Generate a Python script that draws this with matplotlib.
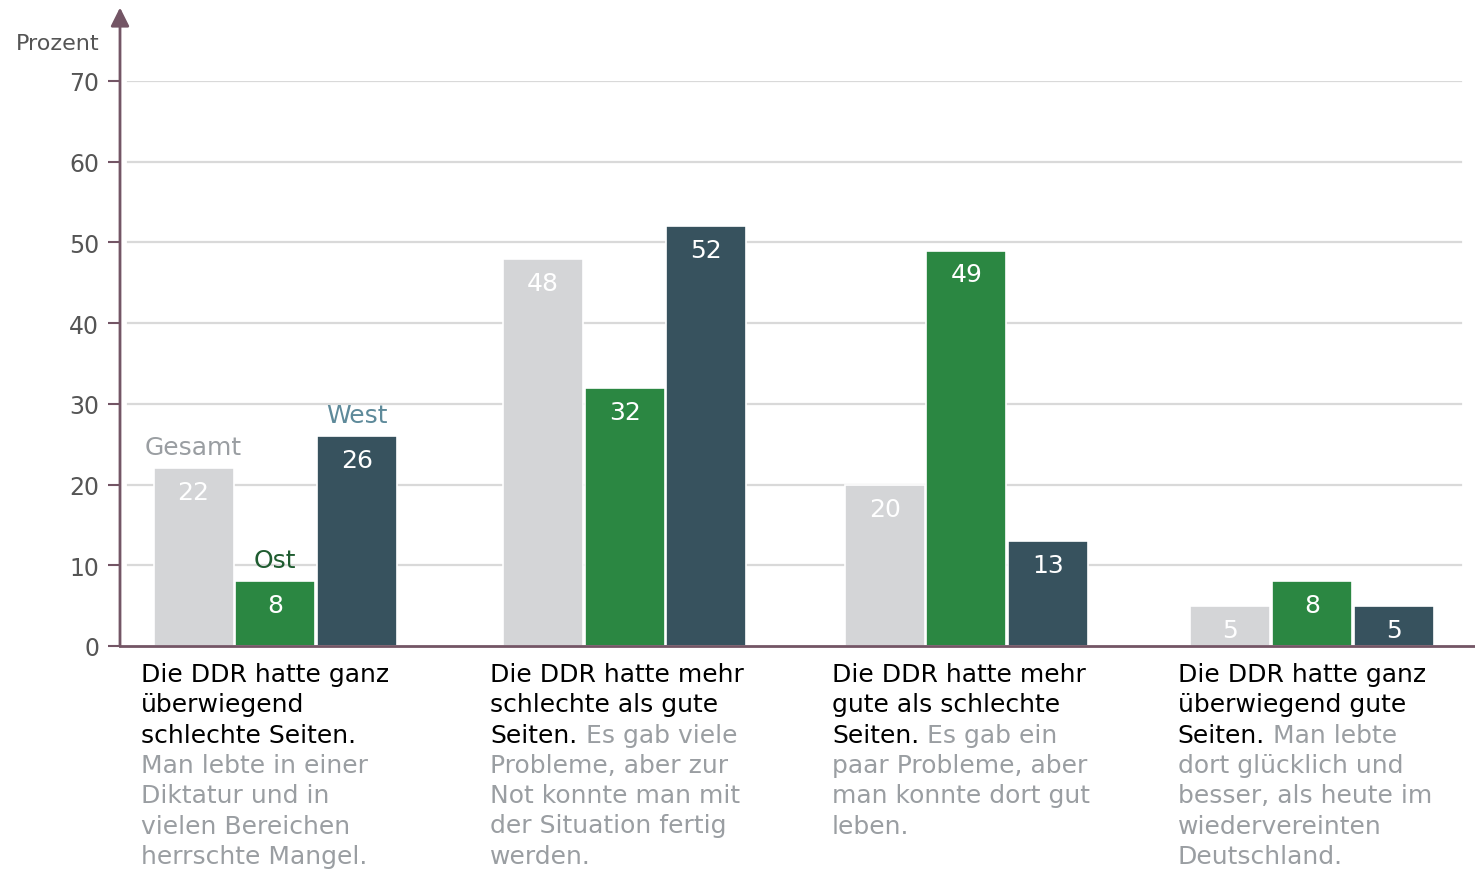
import numpy as np
import matplotlib
matplotlib.use('Agg')
import matplotlib.pyplot as plt

# Values (Prozent)
series_names = ['Gesamt', 'Ost', 'West']
gesamt = [22, 48, 20, 5]
ost = [8, 32, 49, 8]
west = [26, 52, 13, 5]

# Category texts, line by line: (black part, grey part)
cat_lines = [
    [('Die DDR hatte ganz', ''), ('überwiegend', ''), ('schlechte Seiten.', ''),
     ('', 'Man lebte in einer'), ('', 'Diktatur und in'), ('', 'vielen Bereichen'),
     ('', 'herrschte Mangel.')],
    [('Die DDR hatte mehr', ''), ('schlechte als gute', ''), ('Seiten.', ' Es gab viele'),
     ('', 'Probleme, aber zur'), ('', 'Not konnte man mit'), ('', 'der Situation fertig'),
     ('', 'werden.')],
    [('Die DDR hatte mehr', ''), ('gute als schlechte', ''), ('Seiten.', ' Es gab ein'),
     ('', 'paar Probleme, aber'), ('', 'man konnte dort gut'), ('', 'leben.')],
    [('Die DDR hatte ganz', ''), ('überwiegend gute', ''), ('Seiten.', ' Man lebte'),
     ('', 'dort glücklich und'), ('', 'besser, als heute im'), ('', 'wiedervereinten'),
     ('', 'Deutschland.')],
]
yticks = [0, 10, 20, 30, 40, 50, 60, 70]

bar_colors = ['#d4d5d7', '#2b8742', '#37525e']
name_colors = ['#9a9ea2', '#1f5c30', '#5e8a9a']
axis_color = '#735565'
grey_text = '#9a9ea2'

plt.rcParams['font.family'] = ['DejaVu Sans']

fig = plt.figure(figsize=(14.75, 8.7), dpi=100)
ax = fig.add_axes([120 / 1475, 223 / 870, 1355 / 1475, 565 / 870])

# group centres (layout), one bar width = 1 unit
centers = np.array([1.94, 6.31, 10.58, 14.9])
width = 1.0
offsets = [-1.02, 0, 1.02]
data = [gesamt, ost, west]
fs = 18

for y in yticks[1:]:
    ax.axhline(y, xmin=0.006, xmax=0.99, color='#d9d9d9', lw=1.6, zorder=0)

for s, vals in enumerate(data):
    bars = ax.bar(centers + offsets[s], vals, width, color=bar_colors[s],
                  edgecolor='white', linewidth=1.2, zorder=2)
    for b, v in zip(bars, vals):
        ax.annotate(str(v), (b.get_x() + b.get_width() / 2, v),
                    xytext=(0, -24), textcoords='offset pixels',
                    ha='center', va='center', color='white', fontsize=fs, zorder=3)
    # series name above first group
    ax.annotate(series_names[s], (centers[0] + offsets[s], vals[0]),
                xytext=(0, 21), textcoords='offset pixels',
                ha='center', va='center', color=name_colors[s], fontsize=fs, zorder=3)

# category texts below the axis
for i, lines in enumerate(cat_lines):
    x0 = centers[i] - 1.02 - 0.5 - 0.16
    for j, (black, grey) in enumerate(lines):
        dy = -28 - j * 30.3
        if black:
            t = ax.annotate(black, (x0, 0), xytext=(0, dy), textcoords='offset pixels',
                            ha='left', va='center', color='black', fontsize=fs,
                            annotation_clip=False)
            if grey:
                ax.annotate(grey, xy=(1, 0), xycoords=t, ha='left', va='bottom',
                            color=grey_text, fontsize=fs, annotation_clip=False)
        else:
            ax.annotate(grey, (x0, 0), xytext=(0, dy), textcoords='offset pixels',
                        ha='left', va='center', color=grey_text, fontsize=fs,
                        annotation_clip=False)

ax.set_xlim(0, 1355 / 80)
ax.set_ylim(0, 70)
ax.set_xticks([])
ax.set_yticks(yticks)
ax.tick_params(axis='y', direction='out', length=9, width=1.5, color=axis_color,
               labelsize=17, labelcolor='#555555', pad=6)
for side in ['top', 'right', 'left']:
    ax.spines[side].set_visible(False)
ax.spines['bottom'].set_color(axis_color)
ax.spines['bottom'].set_linewidth(2)

# y axis with arrow head
ax.annotate('', xy=(0, 1.13), xytext=(0, 0), xycoords='axes fraction',
            arrowprops=dict(arrowstyle='-|>', color=axis_color, lw=2,
                            mutation_scale=28, shrinkA=0, shrinkB=0),
            annotation_clip=False)
ax.text(-0.046, 1.067, 'Prozent', transform=ax.transAxes, ha='center', va='center',
        fontsize=16, color='#555555')

fig.savefig('out.png', dpi=100)
